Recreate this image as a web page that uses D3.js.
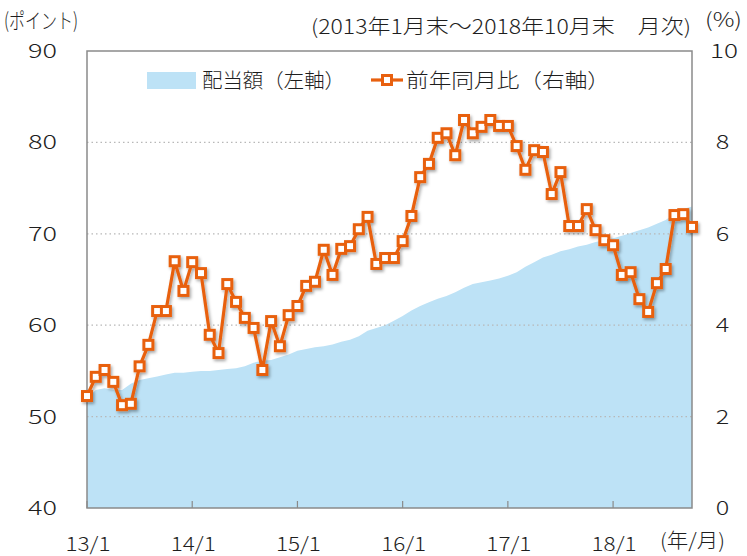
<!DOCTYPE html>
<html><head><meta charset="utf-8">
<script src="https://cdn.jsdelivr.net/npm/d3@7"></script>
<style>body{margin:0;background:#fff;} svg{display:block;} text{font-family:"Noto Sans CJK JP","Noto Sans",sans-serif;fill:#1e1e1e;font-weight:300;}</style>
</head><body>
<svg id="c" width="747" height="556"></svg>
<script>
// Monthly 2013/1 .. 2018/10
const dividend = [52.0,52.9,53.1,52.9,52.9,53.6,54.0,54.2,54.4,54.6,54.8,54.8,
  54.9,55.0,55.0,55.1,55.2,55.3,55.5,55.9,56.1,56.2,56.5,56.8,
  57.2,57.4,57.6,57.7,57.9,58.2,58.4,58.8,59.4,59.7,60.0,60.5,
  61.0,61.6,62.1,62.5,62.9,63.2,63.6,64.1,64.5,64.7,64.9,65.1,
  65.4,65.8,66.4,66.9,67.4,67.7,68.1,68.3,68.6,68.8,69.1,69.3,
  69.5,69.8,70.1,70.4,70.7,71.1,71.5,72.2,72.7,73.0];
const yoy = [2.45,2.87,3.02,2.76,2.25,2.28,3.1,3.57,4.31,4.31,5.4,4.75,
  5.38,5.14,3.79,3.39,4.9,4.51,4.16,3.94,3.02,4.09,3.54,4.22,
  4.42,4.86,4.95,5.65,5.1,5.67,5.73,6.1,6.37,5.34,5.47,5.47,
  5.84,6.39,7.24,7.53,8.1,8.2,7.72,8.49,8.2,8.34,8.49,8.36,
  8.36,7.92,7.4,7.83,7.79,6.87,7.35,6.17,6.17,6.54,6.08,5.86,
  5.75,5.1,5.16,4.57,4.29,4.92,5.23,6.41,6.43,6.15];
const xTickLabels = ["13/1","14/1","15/1","16/1","17/1","18/1"];
const leftTicks = [40,50,60,70,80,90];
const rightTicks = [0,2,4,6,8,10];
const seriesNames = ["配当額（左軸）","前年同月比（右軸）"];

const L=87, R=692, T=51, B=508;
const svg = d3.select("#c");
const x = d3.scaleLinear().domain([0, yoy.length-1]).range([L,R]);
const yL = d3.scaleLinear().domain([40,90]).range([B,T]);
const yR = d3.scaleLinear().domain([0,10]).range([B,T]);
const orange = "#e8600f", blue = "#bde2f6";

function txt(sel, len){ return sel.attr("textLength",len).attr("lengthAdjust","spacingAndGlyphs"); }

const defs = svg.append("defs");
const f = defs.append("filter").attr("id","sh").attr("x","-20%").attr("y","-20%").attr("width","140%").attr("height","140%");
f.append("feDropShadow").attr("dx",1.5).attr("dy",2).attr("stdDeviation",1.5).attr("flood-color","#000").attr("flood-opacity",0.35);

// area
svg.append("path").datum(dividend)
  .attr("d", d3.area().x((d,i)=>x(i)).y0(B).y1(d=>yL(d)))
  .attr("fill", blue);

// gridlines
svg.append("g").selectAll("line").data([50,60,70,80]).join("line")
  .attr("x1",L).attr("x2",R).attr("y1",d=>yL(d)).attr("y2",d=>yL(d))
  .attr("stroke","#b8b8b8").attr("stroke-width",1.2).attr("stroke-dasharray","1.5,3");

// frame
svg.append("rect").attr("x",L).attr("y",T).attr("width",R-L).attr("height",B-T)
  .attr("fill","none").attr("stroke","#8a8a8a").attr("stroke-width",1.5);

// x ticks
const xt = xTickLabels.map((t,k)=>k*12);
svg.append("g").selectAll("line").data(xt).join("line")
  .attr("x1",d=>x(d)).attr("x2",d=>x(d)).attr("y1",B).attr("y2",B-7)
  .attr("stroke","#8a8a8a").attr("stroke-width",1.2);
txt(svg.append("g").selectAll("text").data(xt).join("text")
  .attr("x",d=>x(d)+1).attr("y",551).attr("text-anchor","middle")
  .attr("font-size",19).text((d,k)=>xTickLabels[k]), 45);

// left/right tick labels
txt(svg.append("g").selectAll("text").data(leftTicks).join("text")
  .attr("x",42.5).attr("y",d=>yL(d)+7).attr("text-anchor","middle")
  .attr("font-size",19).text(d=>d), 29);
svg.append("g").selectAll("text").data(rightTicks).join("text")
  .attr("x",d=>d>=10?724:722.5).attr("y",d=>yR(d)+7).attr("text-anchor","middle")
  .attr("font-size",19).text(d=>d)
  .attr("textLength",d=>d>=10?28:13.5).attr("lengthAdjust","spacingAndGlyphs");

// line + markers
const g = svg.append("g").attr("filter","url(#sh)");
g.append("path").datum(yoy)
  .attr("d", d3.line().x((d,i)=>x(i)).y(d=>yR(d)))
  .attr("fill","none").attr("stroke",orange).attr("stroke-width",3.2).attr("stroke-linejoin","round");
g.selectAll("rect").data(yoy).join("rect")
  .attr("x",(d,i)=>x(i)-4.5).attr("y",d=>yR(d)-4.5).attr("width",9).attr("height",9)
  .attr("fill","#fff").attr("stroke",orange).attr("stroke-width",3);

// texts
txt(svg.append("text").attr("x",4).attr("y",28).attr("font-size",21).text("(ポイント)"), 74);
txt(svg.append("text").attr("x",311).attr("y",34).attr("font-size",20).text("(2013年1月末～2018年10月末　月次)"), 380);
txt(svg.append("text").attr("x",705).attr("y",27).attr("font-size",20).text("(%)"), 37);
txt(svg.append("text").attr("x",660).attr("y",548).attr("font-size",20).text("(年/月)"), 65);

// legend
svg.append("rect").attr("x",147).attr("y",72).attr("width",49).attr("height",17).attr("fill",blue);
txt(svg.append("text").attr("x",202).attr("y",88).attr("font-size",20).text(seriesNames[0]), 143);
const lg = svg.append("g");
lg.append("line").attr("x1",371).attr("x2",403).attr("y1",80).attr("y2",80).attr("stroke",orange).attr("stroke-width",3.2);
lg.append("rect").attr("x",382.5).attr("y",75.5).attr("width",9).attr("height",9).attr("fill","#fff").attr("stroke",orange).attr("stroke-width",3);
txt(svg.append("text").attr("x",406).attr("y",88).attr("font-size",20).text(seriesNames[1]), 204);
</script>
</body></html>
